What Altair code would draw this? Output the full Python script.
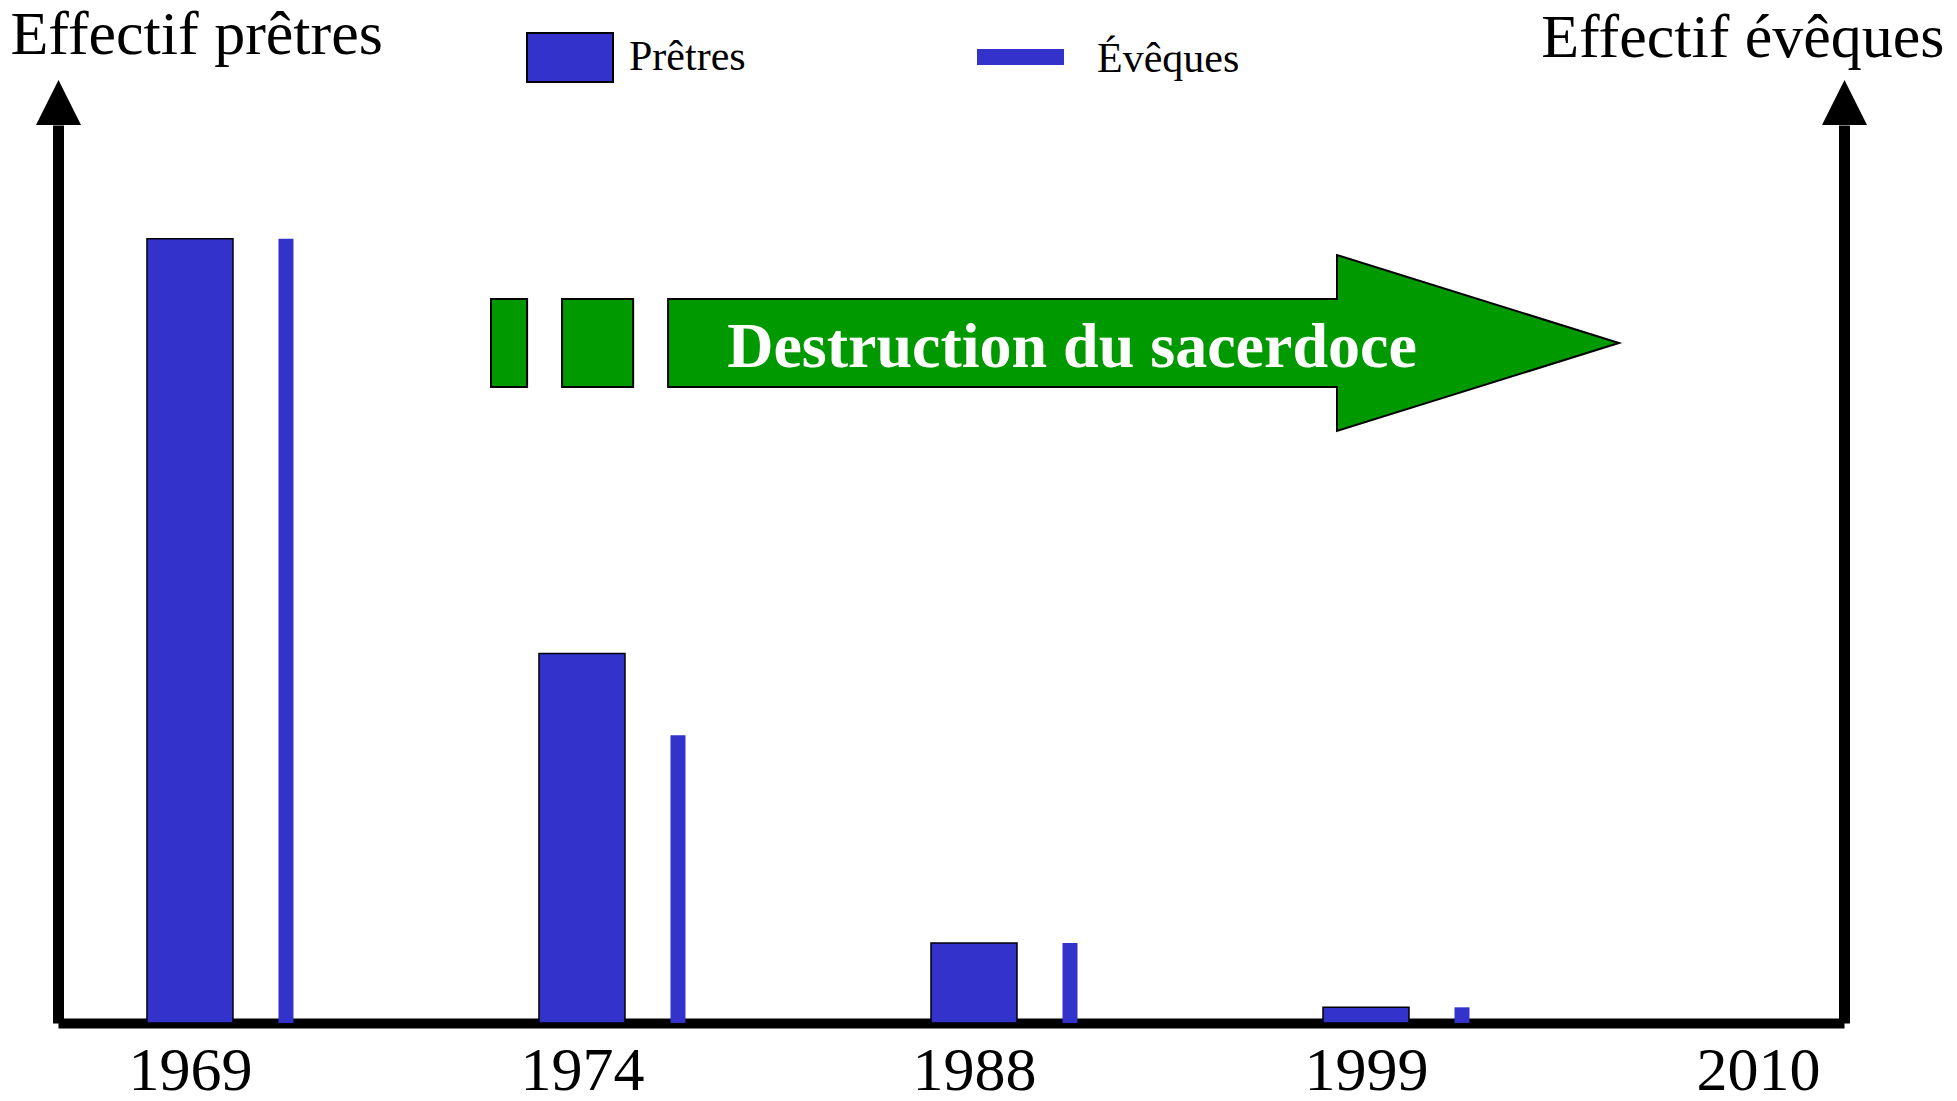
import altair as alt
import pandas as pd

# ---- data ----
years = ["1969", "1974", "1988", "1999", "2010"]
bar_years = ["1969", "1974", "1988", "1999"]
pretres = [100, 47.1, 10.2, 2.0]      # relative height (1969 = 100)
eveques = [100, 36.7, 10.2, 2.0]
series_names = ["Prêtres", "Évêques"]
left_title = "Effectif prêtres"
right_title = "Effectif évêques"
arrow_label = ["Destruction du sacerdoce"]

BLUE = "#3333cc"
GREEN = "#009900"
FONT = "Liberation Serif"
W, H = 1786, 898
Y_MAX = 114.5

df_p = pd.DataFrame({"year": bar_years, "value": pretres, "series": series_names[0]})
df_e = pd.DataFrame({"year": bar_years, "value": eveques, "series": series_names[1]})
one = pd.DataFrame({"k": [0]})

x_enc = alt.X(
    "year:N",
    scale=alt.Scale(type="point", domain=years, padding=0.278, align=0.6055),
    axis=alt.Axis(title=None, domainColor="black", domainWidth=10, ticks=False,
                  labelFont=FONT, labelFontSize=62, labelColor="black",
                  labelPadding=17, labelAngle=0, grid=False),
)

def y_enc(title, orient, tx, ty, align):
    return alt.Y(
        "value:Q",
        scale=alt.Scale(domain=[0, Y_MAX], nice=False, zero=True),
        axis=alt.Axis(title=title, orient=orient, domainColor="black", domainWidth=11,
                      ticks=False, labels=False, grid=False, titleAngle=0,
                      titleAlign=align, titleBaseline="alphabetic", titleX=tx, titleY=ty,
                      titleFont=FONT, titleFontSize=62, titleFontWeight="normal",
                      titleColor="black"),
    )

p_bars = alt.Chart(df_p).mark_bar(width=86, color=BLUE, stroke="black", strokeWidth=1.5).encode(
    x=x_enc, y=y_enc(left_title, "left", -48, -72, "left")
)
e_bars = alt.Chart(df_e).mark_bar(width=15, color=BLUE, xOffset=96).encode(
    x=x_enc, y=y_enc(right_title, "right", 100, -69, "right")
)

tri = "M 0 -1 L 1 1 L -1 1 Z"
head_l = alt.Chart(one).mark_point(shape=tri, size=2025, filled=True, fill="black",
                                   opacity=1).encode(x=alt.value(0.5), y=alt.value(-22.5))
head_r = alt.Chart(one).mark_point(shape=tri, size=2025, filled=True, fill="black",
                                   opacity=1).encode(x=alt.value(W + 0.5), y=alt.value(-22.5))

arrow_path = ("M -1 -0.078 L -0.936 -0.078 L -0.936 0.078 L -1 0.078 Z "
              "M -0.874 -0.078 L -0.748 -0.078 L -0.748 0.078 L -0.874 0.078 Z "
              "M -0.686 -0.078 L 0.5 -0.078 L 0.5 -0.156 L 1 0 L 0.5 0.156 "
              "L 0.5 0.078 L -0.686 0.078 Z")
green_arrow = alt.Chart(one).mark_point(shape=arrow_path, size=1128 ** 2, filled=True,
                                        fill=GREEN, stroke="black", strokeWidth=2,
                                        opacity=1).encode(x=alt.value(997), y=alt.value(218))
arrow_text = alt.Chart(pd.DataFrame({"label": arrow_label})).mark_text(
    font=FONT, fontSize=64, fontWeight="bold", color="white", align="center",
    baseline="alphabetic").encode(text="label:N", x=alt.value(1014), y=alt.value(242))

leg = pd.DataFrame({"series": series_names})
leg_rect_p = alt.Chart(leg).transform_filter(alt.datum.series == series_names[0]).mark_rect(
    color=BLUE, stroke="black", strokeWidth=2).encode(
    x=alt.value(469), x2=alt.value(555), y=alt.value(-92), y2=alt.value(-43))
leg_rect_e = alt.Chart(leg).transform_filter(alt.datum.series == series_names[1]).mark_rect(
    color=BLUE).encode(x=alt.value(919), x2=alt.value(1006), y=alt.value(-76), y2=alt.value(-60))
leg_txt_p = alt.Chart(leg).transform_filter(alt.datum.series == series_names[0]).mark_text(
    font=FONT, fontSize=42, color="black", align="left", baseline="alphabetic").encode(
    text="series:N", x=alt.value(571), y=alt.value(-55))
leg_txt_e = alt.Chart(leg).transform_filter(alt.datum.series == series_names[1]).mark_text(
    font=FONT, fontSize=42, color="black", align="left", baseline="alphabetic").encode(
    text="series:N", x=alt.value(1039), y=alt.value(-53))

chart = alt.layer(
    p_bars, e_bars, head_l, head_r, green_arrow, arrow_text,
    leg_rect_p, leg_rect_e, leg_txt_p, leg_txt_e,
).resolve_scale(y="independent").properties(
    width=W, height=H,
    padding={"left": 50, "top": 117, "right": 105, "bottom": 78},
    autosize=alt.AutoSizeParams(type="none"),
    background="white",
).configure_view(stroke=None)

chart.save("out.html", embed_options={"renderer": "svg", "actions": False})
